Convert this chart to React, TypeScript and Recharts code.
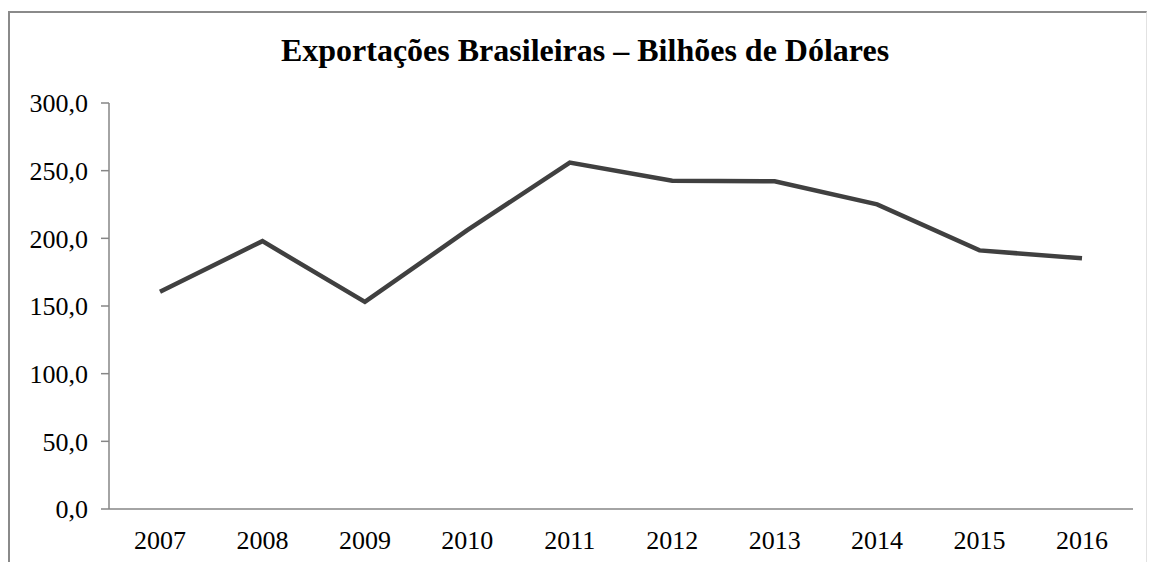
import { Line, LineChart, XAxis, YAxis } from "recharts";

const YEARS = ["2007", "2008", "2009", "2010", "2011", "2012", "2013", "2014", "2015", "2016"];
const EXPORTS = [160.6, 197.9, 153.0, 206.0, 256.0, 242.6, 242.2, 225.1, 191.1, 185.2];
const Y_TICKS = [0, 50, 100, 150, 200, 250, 300];
const TITLE = "Exportações Brasileiras – Bilhões de Dólares";

const SERIF = '"Liberation Serif", "Times New Roman", serif';
const AXIS_GREY = "#868686";

// tick marks sit on the category boundaries, like the Excel original
const BOUNDS = [...YEARS.map((_, i) => i), YEARS.length];

const rows = YEARS.map((year, i) => ({ year, idx: i + 0.5, value: EXPORTS[i] }));

const fmt = (v: number) => v.toFixed(1).replace(".", ",");

export default function App() {
  return (
    <div style={{ position: "absolute", left: 0, top: 0, width: 1150, height: 562, background: "#fff", overflow: "hidden" }}>
      <div
        style={{
          position: "absolute",
          left: 8,
          top: 11,
          width: 1136,
          height: 600,
          borderTop: "2px solid #8a8a8a",
          borderLeft: "2px solid #8a8a8a",
          borderRight: "1px solid #e2e2e2",
        }}
      />
      <div
        style={{
          position: "absolute",
          left: 0,
          top: 34,
          width: 1170,
          textAlign: "center",
          fontFamily: SERIF,
          fontWeight: "bold",
          fontSize: 32,
          lineHeight: 1,
          color: "#000",
        }}
      >
        {TITLE}
      </div>
      <div style={{ position: "absolute", left: 0, top: 0 }}>
        <LineChart width={1150} height={562} data={rows} margin={{ top: 103, right: 17, left: 9, bottom: 0 }}>
          <XAxis
            xAxisId="bounds"
            dataKey="idx"
            type="number"
            domain={[0, YEARS.length]}
            ticks={BOUNDS}
            allowDataOverflow
            tick={false}
            tickSize={6}
            height={1}
            stroke={AXIS_GREY}
            strokeWidth={1.5}
          />
          <XAxis
            xAxisId="years"
            dataKey="year"
            padding={{ left: 51, right: 51 }}
            axisLine={false}
            tickLine={false}
            tickSize={0}
            tickMargin={21}
            height={52}
            interval={0}
            tick={{ fill: "#000", fontSize: 26, fontFamily: SERIF }}
          />
          <YAxis
            domain={[0, 300]}
            ticks={Y_TICKS}
            width={100}
            tickSize={8}
            tickMargin={13}
            tickFormatter={fmt}
            stroke={AXIS_GREY}
            strokeWidth={1.5}
            tick={{ fill: "#000", fontSize: 26, fontFamily: SERIF }}
          />
          <Line
            xAxisId="years"
            type="linear"
            dataKey="value"
            stroke="#404040"
            strokeWidth={4.5}
            dot={false}
            isAnimationActive={false}
          />
        </LineChart>
      </div>
    </div>
  );
}
